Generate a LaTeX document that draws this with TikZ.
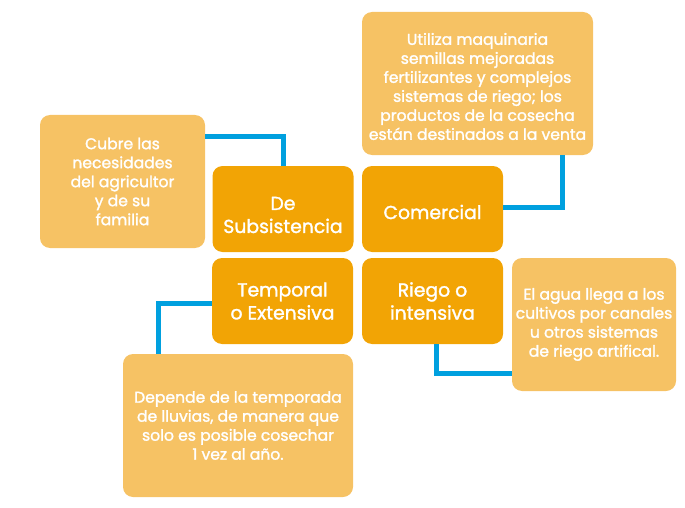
\documentclass[tikz,border=0pt]{standalone}
\usepackage{fontspec}
\setmainfont{Poppins}[UprightFeatures={FakeBold=1.6}]
\usepackage{tikz}
\usetikzlibrary{positioning,calc}
\usepackage{xcolor}
\definecolor{darkor}{HTML}{F2A405}
\definecolor{lightor}{HTML}{F6C264}
\definecolor{linkblue}{HTML}{00A0DF}

\begin{document}
\begin{tikzpicture}[x=1pt,y=-1pt,
    tipo/.style={fill=darkor,draw=none,rounded corners=10pt,text=white,align=center,minimum width=141pt,minimum height=86pt,font=\fontsize{18.8}{23}\selectfont},
    desc/.style={fill=lightor,draw=none,rounded corners=10pt,text=white,align=center,font=\fontsize{15.6}{19}\selectfont},
    link/.style={draw=linkblue,line width=5pt}]

        \useasboundingbox (0,0) rectangle (685,508);

        \node[tipo,label={[text=white,align=center,font=\fontsize{18.8}{23}\selectfont,yshift=-6pt]center:De\\Subsistencia}] (sub) at (283,209) {};
        \node[tipo,label={[text=white,font=\fontsize{18.8}{23}\selectfont,yshift=-3pt]center:Comercial}] (com) at (432.5,209) {};
        \node[tipo] (tem) at (282.5,301) {Temporal\\o Extensiva};
        \node[tipo] (rie) at (432.5,301) {Riego o\\intensiva};

        \node[desc,minimum width=165pt,minimum height=133pt] (cub) at (122.5,181.5) {Cubre las\\necesidades\\del agricultor\\y de su\\familia};
        \node[desc,minimum width=231pt,minimum height=143pt,label={[text=white,align=center,font=\fontsize{15.6}{19}\selectfont,yshift=-3pt]center:Utiliza maquinaria\\semillas mejoradas\\fertilizantes y complejos\\sistemas de riego; los\\productos de la cosecha\\están destinados a la venta}] (uti) at (477.5,83.5) {};
        \node[desc,minimum width=164pt,minimum height=133pt] (agu) at (594,324.5) {El agua llega a los\\cultivos por canales\\u otros sistemas\\de riego artifical.};
        \node[desc,minimum width=230pt,minimum height=143pt] (dep) at (238,425.5) {Depende de la temporada\\de lluvias, de manera que\\solo es posible cosechar\\1 vez al año.};

        \draw[link] ([yshift=44.5pt]cub.east) -| (sub.north);
        \draw[link] ([yshift=2pt]com.east) -| ([xshift=84.5pt]uti.south);
        \draw[link] ([yshift=-2pt]tem.west) -| ([xshift=-80pt]dep.north);
        \draw[link] ([xshift=3.5pt]rie.south) |- ([yshift=-48.5pt]agu.west);
    \end{tikzpicture}
\end{document}
